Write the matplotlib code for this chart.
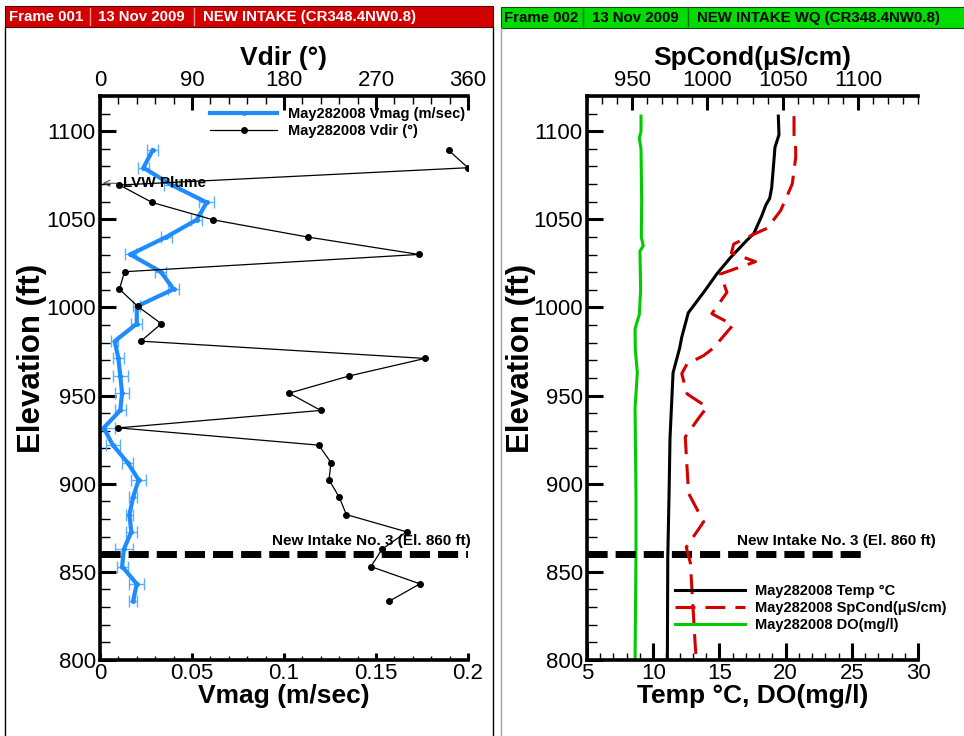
import matplotlib
matplotlib.use('Agg')
import matplotlib.pyplot as plt
from matplotlib.patches import Rectangle
from matplotlib.ticker import MultipleLocator, FormatStrFormatter

plt.rcParams['font.family'] = ['Liberation Sans', 'DejaVu Sans']

# ---- frame 001 : ADCP profile ----
elev = [1089.2, 1079.3, 1069.5, 1059.6, 1049.7, 1040.0, 1030.1, 1020.3, 1010.4,
        1000.6, 990.8, 980.9, 971.1, 961.2, 951.4, 941.6, 931.7, 921.9, 912.0,
        902.2, 892.4, 882.5, 872.7, 862.9, 853.0, 843.2, 833.4]
vdir = [341, 360, 19, 51, 111, 203, 312, 24, 19, 37, 60, 40, 318, 244, 185,
        216, 18, 214, 226, 224, 234, 241, 300, 276, 265, 313, 283]
vmag = [0.0286, 0.0236, 0.039, 0.058, 0.0525, 0.036, 0.0165, 0.033, 0.040,
        0.020, 0.020, 0.008, 0.010, 0.011, 0.012, 0.011, 0.002, 0.007, 0.015,
        0.021, 0.018, 0.016, 0.017, 0.013, 0.012, 0.020, 0.018]
vmag_err = [0.003, 0.003, 0.004, 0.004, 0.003, 0.003, 0.003, 0.003, 0.003,
            0.002, 0.003, 0.002, 0.003, 0.004, 0.004, 0.003, 0.006, 0.004,
            0.003, 0.004, 0.002, 0.002, 0.003, 0.005, 0.003, 0.004, 0.002]

# ---- frame 002 : water quality profile ----
temp_elev = [1108.6, 1098, 1091, 1079, 1068, 1062, 1058, 1052, 1042, 1038, 1028,
             1019, 1009.5, 997, 983, 977, 963, 926, 895, 858, 800]
temp = [19.45, 19.5, 19.2, 19.07, 18.95, 18.8, 18.5, 18.2, 17.6, 17.06, 15.8,
        14.8, 13.9, 12.65, 12.15, 12.0, 11.5, 11.27, 11.2, 11.1, 11.07]

cond_elev = [1108.6, 1098, 1090, 1085, 1070, 1055, 1045, 1042, 1036, 1031, 1026,
             1019, 1008.6, 996.5, 990, 977, 972.7, 968, 962.5, 951, 943.5, 937,
             926.5, 894.6, 878.4, 864, 855, 807.5, 800]
spcond = [1057.6, 1057.6, 1058.7, 1058.7, 1056.4, 1048.7, 1039.8, 1032, 1017.5,
          1016, 1032, 1008.7, 1013, 1003, 1017, 1004, 997.5, 986.5, 983, 986.5,
          999.8, 994, 985.3, 987.5, 997.5, 986, 988.7, 992, 992.7]

do_elev = [1108.6, 1100, 1096, 1090, 1060, 1040, 1035, 1032, 1010, 996, 988,
           976, 963, 943, 894, 860, 800]
do = [9.08, 9.08, 8.95, 9.08, 9.13, 9.10, 9.25, 9.00, 9.05, 8.95, 8.63, 8.65,
      8.80, 8.63, 8.70, 8.70, 8.63]

intake_elev = 860
intake_label = 'New Intake No. 3 (El. 860 ft)'

W, H = 964, 736
fig = plt.figure(figsize=(W / 100, H / 100), dpi=100)


def px_axes(l, t, r, b):
    return fig.add_axes([l / W, 1 - b / H, (r - l) / W, (b - t) / H])


# frame decorations in pixel coordinates
bg = fig.add_axes([0, 0, 1, 1], zorder=0)
bg.set_xlim(0, W)
bg.set_ylim(H, 0)
bg.axis('off')
bg.add_patch(Rectangle((5, 6), 488, 21, facecolor='#d20000', edgecolor='#600000', lw=0.8))
bg.add_patch(Rectangle((501, 7), 470, 21, facecolor='#00dc00', edgecolor='#204020', lw=0.8))
bg.plot([5, 5], [27, H], color='k', lw=1)
bg.plot([493, 493], [27, H], color='k', lw=1)
bg.plot([501, 501], [28, H], color='#a0a0a0', lw=1)
for x in (90, 194):
    bg.plot([x, x], [8, 25], color='#ff9090', lw=1)
for x in (583, 688):
    bg.plot([x, x], [9, 26], color='#107010', lw=1)
hdr = dict(fontsize=10.8, fontweight='bold', va='center', ha='left')
bg.text(9, 17, 'Frame 001', color='white', **hdr)
bg.text(98, 17, '13 Nov 2009', color='white', **hdr)
bg.text(203, 17, 'NEW INTAKE (CR348.4NW0.8)', color='white', **hdr)
bg.text(504, 18, 'Frame 002', color='black', **hdr)
bg.text(592, 18, '13 Nov 2009', color='black', **hdr)
bg.text(697, 18, 'NEW INTAKE WQ (CR348.4NW0.8)', color='black', **hdr)


def style_axes(ax, top, bot_major, bot_minor, ylab_x):
    ax.spines['right'].set_visible(False)
    for s in ('left', 'bottom', 'top'):
        ax.spines[s].set_linewidth(2.6)
    ax.set_ylim(800, 1120)
    ax.yaxis.set_major_locator(MultipleLocator(50))
    ax.yaxis.set_minor_locator(MultipleLocator(10))
    ax.tick_params(axis='y', which='major', direction='in', length=11.5, width=2.2,
                   labelsize=16, pad=3, right=False)
    ax.tick_params(axis='y', which='minor', direction='in', length=7, width=1, right=False)
    ax.tick_params(axis='x', which='major', direction='in', length=bot_major, width=2.2,
                   labelsize=16, pad=2.5, top=False)
    ax.tick_params(axis='x', which='minor', direction='in', length=bot_minor, width=1, top=False)
    top.tick_params(axis='x', which='major', direction='in', length=10, width=2.2,
                    labelsize=16, pad=3.5, bottom=False)
    top.tick_params(axis='x', which='minor', direction='in', length=6, width=1, bottom=False)
    top.spines['right'].set_visible(False)
    top.set_zorder(2)
    ax.set_ylabel('Elevation (ft)', fontsize=22.5, fontweight='bold')
    ax.yaxis.set_label_coords(ylab_x, 0.535)


# ---------------- left panel ----------------
ax1 = px_axes(100, 96, 468, 660)
ax1.set_zorder(1)
ax1t = ax1.twiny()
style_axes(ax1, ax1t, 5, 3, -0.145)

ax1.errorbar(vmag, elev, xerr=vmag_err, fmt='none', ecolor='#5ab0ff', elinewidth=1,
             capsize=4, capthick=1, zorder=2)
vm_line, = ax1.plot(vmag, elev, color='#1e8cff', lw=3, marker='o', ms=2.5, zorder=3,
                    label='May282008 Vmag (m/sec)')
ax1.axhline(intake_elev, color='k', lw=5, dashes=(2.9, 1.15), zorder=4)
ax1.set_xlim(0, 0.2)
ax1.xaxis.set_major_locator(MultipleLocator(0.05))
ax1.xaxis.set_minor_locator(MultipleLocator(0.01))
ax1.xaxis.set_major_formatter(FormatStrFormatter('%g'))
ax1.set_xlabel('Vmag (m/sec)', fontsize=19, fontweight='bold', labelpad=0)

vd_line, = ax1t.plot(vdir, elev, color='k', lw=0.9, marker='o', ms=4,
                     label='May282008 Vdir (\u00b0)')
ax1t.set_xlim(0, 360)
ax1t.xaxis.set_major_locator(MultipleLocator(90))
ax1t.xaxis.set_minor_locator(MultipleLocator(18))
ax1t.set_xlabel('Vdir (\u00b0)', fontsize=19, fontweight='bold', labelpad=4)

ax1t.text(168, 867.5, intake_label, fontsize=11, fontweight='bold',
          ha='left', va='center', zorder=5)
ax1.annotate('LVW Plume', xy=(0.0015, 1070.5), xytext=(0.0125, 1070.5),
             fontsize=11, fontweight='bold', ha='left', va='center', zorder=6,
             arrowprops=dict(arrowstyle='->', lw=0.7, color='#404040',
                             shrinkA=0, shrinkB=0))

ax1t.legend(handles=[vm_line, vd_line], loc='upper left', bbox_to_anchor=(0.299, 0.981),
            frameon=False, borderpad=0, borderaxespad=0, handlelength=4.6,
            handletextpad=0.75, labelspacing=0.25, prop={'weight': 'bold', 'size': 10.5})

# ---------------- right panel ----------------
ax2 = px_axes(587, 96, 918, 660)
ax2.set_zorder(1)
ax2t = ax2.twiny()
style_axes(ax2, ax2t, 12, 5, -0.155)

t_line, = ax2.plot(temp, temp_elev, color='k', lw=2.2, label='May282008 Temp \u00b0C')
d_line, = ax2.plot(do, do_elev, color='#00cc00', lw=2.2, label='May282008 DO(mg/l)')
ax2.hlines(intake_elev, 5, 25.8, color='k', lw=5, linestyles=(0, (2.9, 1.15)), zorder=4)
ax2.set_xlim(5, 30)
ax2.xaxis.set_major_locator(MultipleLocator(5))
ax2.xaxis.set_minor_locator(MultipleLocator(1))
ax2.set_xlabel('Temp \u00b0C, DO(mg/l)', fontsize=19, fontweight='bold', labelpad=0)

c_line, = ax2t.plot(spcond, cond_elev, color='#d40000', lw=2.2, dashes=(6.5, 3.3),
                    label='May282008 SpCond(\u03bcS/cm)')
ax2t.set_xlim(920, 1140)
ax2t.xaxis.set_minor_locator(MultipleLocator(10))
ax2t.set_xticks([950, 1000, 1050, 1100])
ax2t.set_xlabel('SpCond(\u03bcS/cm)', fontsize=19, fontweight='bold', labelpad=4)

ax2.text(16.3, 867.5, intake_label, fontsize=11, fontweight='bold',
         ha='left', va='center', zorder=5, clip_on=False)

ax2t.legend(handles=[t_line, c_line, d_line], loc='upper left',
            bbox_to_anchor=(0.266, 0.135), frameon=False, borderpad=0, borderaxespad=0,
            handlelength=4.8, handletextpad=0.7, labelspacing=0.22,
            prop={'weight': 'bold', 'size': 10.5})

fig.savefig('out.png', dpi=100)
